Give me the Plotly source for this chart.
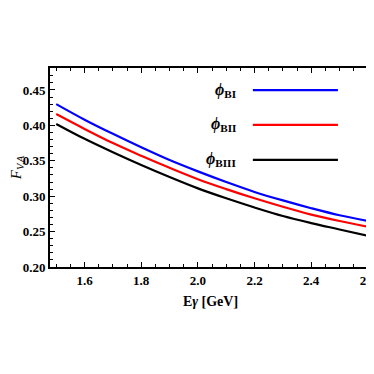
import plotly.graph_objects as go

# photon energy [GeV]
e_gamma = [1.5, 1.6, 1.7, 1.8, 1.9, 2.0, 2.1, 2.2, 2.3, 2.4, 2.5, 2.6]

# form factor F_{V,A} for the three wave functions
f_bi = [0.430, 0.408, 0.388, 0.369, 0.351, 0.335, 0.320, 0.306, 0.294, 0.283, 0.273, 0.265]
f_bii = [0.416, 0.395, 0.375, 0.357, 0.340, 0.324, 0.310, 0.297, 0.285, 0.274, 0.265, 0.257]
f_biii = [0.402, 0.381, 0.362, 0.344, 0.327, 0.311, 0.297, 0.284, 0.272, 0.262, 0.253, 0.244]

names = ['BI', 'BII', 'BIII']
colors = ['#0000ff', '#ff0000', '#000000']
series = [f_bi, f_bii, f_biii]

fig = go.Figure()
for s, c, n in zip(series, colors, names):
    fig.add_trace(go.Scatter(x=e_gamma, y=s, mode='lines', name=n,
                             line=dict(color=c, width=2.2, shape='spline', smoothing=1.0)))

# hand made legend: label on the left, line sample on the right
leg_y = [0.889, 0.714, 0.538]
for n, c, yy in zip(names, colors, leg_y):
    fig.add_annotation(x=0.585, y=yy, xref='paper', yref='paper', text='<i>ϕ</i><sub>' + n + '</sub>',
                       showarrow=False, xanchor='right', yanchor='middle',
                       font=dict(family='Liberation Serif', size=16, color='black', weight='bold'))
    fig.add_shape(type='line', xref='paper', yref='paper', x0=0.632, x1=0.897, y0=yy, y1=yy,
                  line=dict(color=c, width=2.2))

tickfont = dict(family='Liberation Serif', size=13, color='black', weight='bold')

# page body adds 8px offset; figure runs a little past the right edge of the window
fig.update_layout(
    width=374, height=366,
    margin=dict(l=42, r=11, t=60, b=107),
    showlegend=False,
    plot_bgcolor='white', paper_bgcolor='white',
    xaxis=dict(range=[1.478, 2.611], tickvals=[1.6, 1.8, 2.0, 2.2, 2.4, 2.6], ticktext=['1.6', '1.8', '2.0', '2.2', '2.4', '2.6'],
               ticks='inside', ticklen=5, tickwidth=1, tickcolor='black', automargin=False,
               minor=dict(dtick=0.05, tick0=1.5, ticks='inside', ticklen=3, tickcolor='black'),
               showline=True, linecolor='black', linewidth=2, mirror='allticks',
               showgrid=False, zeroline=False, tickfont=tickfont,
               title=dict(text='E<i>γ</i> [GeV]', standoff=10,
                          font=dict(family='Liberation Serif', size=14, color='black', weight='bold'))),
    yaxis=dict(range=[0.2, 0.481], tickvals=[0.20, 0.25, 0.30, 0.35, 0.40, 0.45], ticktext=['0.20', '0.25', '0.30', '0.35', '0.40', '0.45'],
               ticks='inside', ticklen=5, tickwidth=1, tickcolor='black', automargin=False,
               minor=dict(dtick=0.01, tick0=0.2, ticks='inside', ticklen=3, tickcolor='black'),
               showline=True, linecolor='black', linewidth=2, mirror='allticks',
               showgrid=False, zeroline=False, tickfont=tickfont,
               title=dict(text='<i>F</i><sub><i>V,A</i></sub>', standoff=11,
                          font=dict(family='Liberation Serif', size=15, color='black'))),
)

fig.write_html("out.html")
